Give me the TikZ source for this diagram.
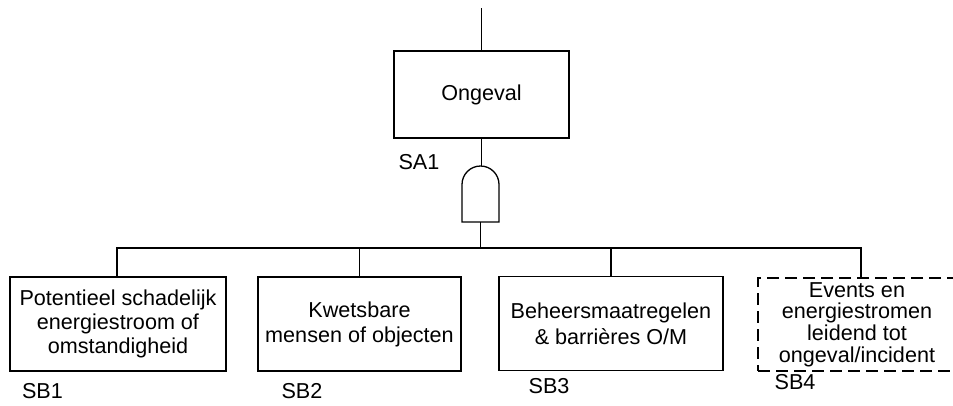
\documentclass[tikz,border=0pt]{standalone}
\usepackage{fontspec}
\setmainfont{Liberation Sans}
\begin{document}
\begin{tikzpicture}[x=1pt,y=-1pt,
  line width=1.3pt,
  every node/.style={font=\fontsize{21.6}{24}\selectfont, inner sep=0pt},
  box/.style={draw, align=center, minimum height=94pt},
  dbox/.style={draw, dash pattern=on 12pt off 6pt, align=center, minimum height=93pt},
  tag/.style={anchor=center}
]
\useasboundingbox (0,0) rectangle (953,405);
\clip (0,0) rectangle (953,405);

% top event
\coordinate (topin) at (481.5,8);
\node[box, minimum width=175pt, minimum height=87pt] (top) at (481.5,94.5) {Ongeval};
\node[tag] (sa1) at (419,162) {SA1};

% AND gate
\coordinate (gtop) at (480.5,166);
\coordinate (gbot) at (480.5,222);
\draw (462,222) -- (462,184.5) arc[start angle=180, end angle=0, radius=18.5pt]
      -- (499,222) -- cycle;

% basic events
\node[box, minimum width=216pt] (sb1) at (118,324)
  {Potentieel schadelijk\\energiestroom of\\omstandigheid};
\node[box, minimum width=203pt, font=\fontsize{21.6}{25}\selectfont] (sb2) at (359.5,324)
  {Kwetsbare\\mensen of objecten};
\node[box, minimum width=224pt, font=\fontsize{21.6}{27}\selectfont] (sb3) at (611,323.5)
  {\raisebox{5pt}{\parbox{220pt}{\centering Beheersmaatregelen\\[-1pt]\& barrières O/M}}};
\node[dbox, minimum width=198pt, font=\fontsize{21.6}{21.7}\selectfont] (sb4) at (857,324.5)
  {Events en\\energiestromen\\leidend tot\\ongeval/incident};

\node[tag] (lb1) at (42.5,391) {SB1};
\node[tag] (lb2) at (302,391) {SB2};
\node[tag] (lb3) at (549,386) {SB3};
\node[tag] (lb4) at (795,382) {SB4};

% connectors
\coordinate (bus) at (481.5,248);
\draw (topin) -- (top.north);
\draw (top.south) -- (top.south |- gtop);
\draw (gbot) -- (gbot |- bus);
\draw (sb1.north -| 117,0) -- (117,248) -- (861,248) -- ([xshift=4pt]sb4.north);
\draw (sb2.north) -- (sb2.north |- bus);
\draw (sb3.north) -- (sb3.north |- bus);
\end{tikzpicture}
\end{document}
